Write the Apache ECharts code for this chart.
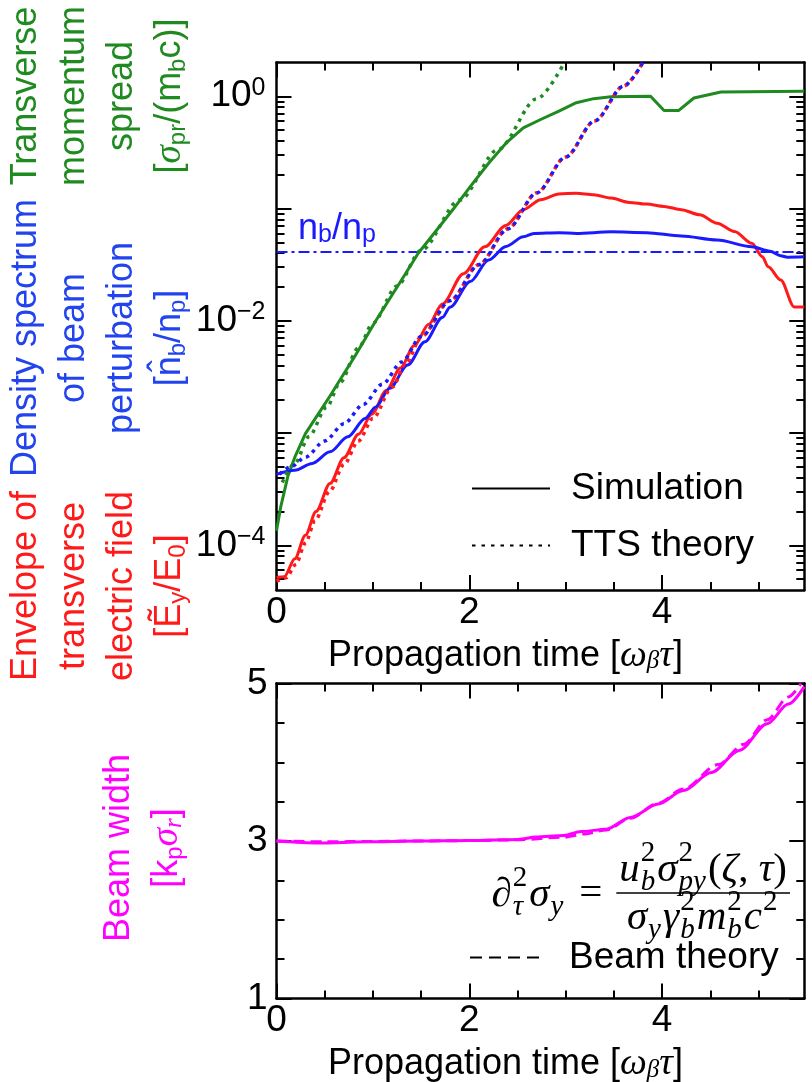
<!DOCTYPE html>
<html>
<head>
<meta charset="utf-8">
<script src="https://cdn.jsdelivr.net/npm/echarts@6/dist/echarts.min.js"></script>
<style>
  html, body { margin: 0; padding: 0; background: #fff; }
  #chart { width: 812px; height: 1082px; }
</style>
</head>
<body>
<div id="chart"></div>
<script>
// ---------- axis ranges and ticks ----------
const xMax = 5.475;
const logMin = 4e-5;
const logMax = 2;
const widthMin = 1;
const widthMax = 5;

const xMajorTicks = [0, 2, 4];
const xMinorTicks = [0.5, 1, 1.5, 2.5, 3, 3.5, 4.5, 5];
const logLabelTicks = [1e-4, 1e-2, 1];
const logMajorTicks = [1e-4, 1e-3, 1e-2, 1e-1, 1];
const widthLabelTicks = [1, 3, 5];
const widthMinorTicks = [1.5, 2, 2.5, 3.5, 4, 4.5];

// ---------- top panel: [propagation time, value] ----------
const momentumSim = [
  [0, 1.35e-4], [0.044, 2.2e-4], [0.117, 4.1e-4], [0.19, 6.1e-4], [0.30, 9.9e-4],
  [0.41, 1.38e-3], [0.555, 2.14e-3], [0.70, 3.39e-3], [0.81, 4.79e-3], [0.92, 6.92e-3],
  [1.03, 1.0e-2], [1.14, 1.41e-2], [1.32, 2.48e-2], [1.47, 4.0e-2], [1.65, 6.25e-2],
  [1.83, 9.8e-2], [2.01, 0.157], [2.20, 0.253], [2.38, 0.382], [2.56, 0.524],
  [2.74, 0.621], [2.93, 0.738], [3.11, 0.877], [3.29, 0.953], [3.47, 0.99],
  [3.88, 1.0], [4.02, 0.746], [4.17, 0.746], [4.33, 0.966], [4.61, 1.094], [5.475, 1.11]
];
const momentumTTS = [
  [0.06, 3.63e-4], [0.19, 5.37e-4], [0.336, 9.3e-4], [0.52, 1.70e-3], [0.66, 2.82e-3],
  [0.85, 5.75e-3], [1.0, 9.55e-3], [1.25, 2.04e-2], [1.5, 4.24e-2], [1.9, 0.119],
  [2.3, 0.337], [2.7, 0.95], [2.985, 1.99]
];
const fieldSim = [
  [0, 5.19e-5], [0.08, 5.25e-5], [0.19, 7.59e-5], [0.30, 1.23e-4], [0.41, 2.0e-4],
  [0.555, 3.55e-4], [0.70, 6.03e-4], [0.85, 9.77e-4], [0.99, 1.48e-3], [1.14, 2.4e-3],
  [1.285, 3.8e-3], [1.43, 6.03e-3], [1.58, 9.33e-3], [1.72, 1.41e-2], [1.94, 2.63e-2],
  [2.16, 4.57e-2], [2.38, 7.08e-2], [2.56, 9.77e-2], [2.74, 0.120], [2.93, 0.135],
  [3.11, 0.137], [3.29, 0.133], [3.47, 0.124], [3.66, 0.1135], [3.84, 0.1096],
  [4.02, 0.1045], [4.20, 0.0977], [4.39, 0.0879], [4.57, 0.0741], [4.75, 0.0624],
  [4.93, 0.049], [5.04, 0.0372], [5.10, 0.0303], [5.23, 0.0231], [5.37, 0.0133], [5.475, 0.0133]
];
const fieldTTS = [
  [0, 4.79e-5], [0.1, 5.13e-5], [0.2, 6.76e-5], [0.3, 1.05e-4], [0.4, 1.66e-4],
  [0.55, 3.02e-4], [0.7, 5.25e-4], [0.85, 8.51e-4], [1.0, 1.35e-3], [1.2, 2.57e-3],
  [1.35, 4.27e-3], [1.5, 7.24e-3], [1.8, 1.51e-2], [2.1, 3.16e-2], [2.4, 6.61e-2],
  [2.7, 0.138], [3.0, 0.288], [3.3, 0.603], [3.6, 1.23], [3.8, 2.0]
];
const densitySim = [
  [0, 4.29e-4], [0.19, 4.66e-4], [0.37, 5.35e-4], [0.555, 6.8e-4], [0.74, 9.25e-4],
  [0.92, 1.35e-3], [1.03, 1.71e-3], [1.175, 2.51e-3], [1.36, 4.03e-3], [1.54, 6.5e-3],
  [1.72, 1.07e-2], [1.80, 1.32e-2], [2.01, 2.24e-2], [2.20, 3.48e-2], [2.38, 4.6e-2],
  [2.56, 5.6e-2], [2.67, 6.0e-2], [2.93, 6.1e-2], [3.11, 6.0e-2], [3.47, 6.2e-2],
  [3.84, 6.1e-2], [4.20, 5.7e-2], [4.57, 5.25e-2], [4.93, 4.57e-2], [5.12, 4.17e-2],
  [5.23, 3.8e-2], [5.30, 3.69e-2], [5.475, 3.72e-2]
];
const densityTTS = [
  [0, 4.07e-4], [0.15, 5.0e-4], [0.3, 6.1e-4], [0.5, 8.5e-4], [0.7, 1.21e-3],
  [0.9, 1.8e-3], [1.1, 2.73e-3], [1.3, 4.3e-3], [1.5, 7.24e-3], [1.8, 1.51e-2],
  [2.1, 3.16e-2], [2.4, 6.61e-2], [2.7, 0.138], [3.0, 0.288], [3.3, 0.603],
  [3.6, 1.23], [3.8, 2.0]
];
const densityRatio = 0.041;

// ---------- bottom panel: [propagation time, beam width] ----------
const widthSim = [
  [0, 3.0], [0.44, 2.975], [0.93, 2.99], [1.48, 3.0], [2.0, 3.007], [2.51, 3.02],
  [2.69, 3.05], [2.98, 3.07], [3.16, 3.12], [3.42, 3.15], [3.67, 3.30], [3.96, 3.47],
  [4.22, 3.64], [4.51, 3.87], [4.80, 4.15], [5.09, 4.49], [5.31, 4.74], [5.475, 4.96]
];
const widthTheory = [
  [0, 3.0], [0.5, 2.99], [1.0, 2.995], [1.5, 3.0], [2.0, 3.005], [2.5, 3.015],
  [2.98, 3.05], [3.2, 3.09], [3.42, 3.14], [3.67, 3.29], [3.96, 3.48], [4.22, 3.66],
  [4.58, 3.97], [4.85, 4.23], [5.09, 4.54], [5.31, 4.83], [5.44, 5.0]
];

// ---------- styling ----------
const GREEN = '#1f8a1f';
const RED = '#ff1a1a';
const BLUE = '#1a1aff';
const MAGENTA = '#ff00ff';
const TITLE_BLUE = '#2244ee';
const SANS = '"Liberation Sans", Arial, sans-serif';
const SERIF = '"Liberation Serif", "DejaVu Serif", serif';
const DOTS = [3.5, 5];

// log-axis minor ticks at k * 10^e
const logMinorTicks = [];
for (let e = -5; e <= 0; e++) {
  for (let k = 2; k <= 9; k++) {
    const v = k * Math.pow(10, e);
    if (v > logMin && v < logMax) logMinorTicks.push(v);
  }
}

const AXIS_LINE = { show: true, onZero: false, lineStyle: { color: '#000', width: 2.5 } };
const NO_LINE = { show: false, onZero: false };
function ticks(values, length) {
  return { show: true, inside: true, length, customValues: values,
           lineStyle: { color: '#000', width: 2 } };
}

const nameRich = {
  g: { fontFamily: SERIF, fontStyle: 'italic', fontSize: 38, lineHeight: 44 },
  s: { fontFamily: SERIF, fontStyle: 'italic', fontSize: 25, lineHeight: 25,
       verticalAlign: 'bottom', padding: [0, 0, 4, 0] }
};
const axisName = 'Propagation time [{g|ω}{s|β}{g|τ}]';

function xAxesFor(gridIndex, nameGap) {
  const base = { type: 'value', gridIndex, min: 0, max: xMax, splitLine: { show: false } };
  return [
    { ...base, position: 'bottom', axisLine: AXIS_LINE, axisTick: ticks(xMajorTicks, 15),
      axisLabel: { show: true, customValues: xMajorTicks, margin: 4, fontSize: 37,
                   fontFamily: SANS, color: '#000' },
      name: axisName, nameLocation: 'middle', nameGap,
      nameTextStyle: { fontSize: 36, fontFamily: SANS, color: '#000', lineHeight: 44,
                       padding: [0, 70, 0, 0], rich: nameRich } },
    { ...base, position: 'bottom', axisLine: NO_LINE, axisTick: ticks(xMinorTicks, 8),
      axisLabel: { show: false } },
    { ...base, position: 'top', axisLine: AXIS_LINE, axisTick: ticks(xMajorTicks, 15),
      axisLabel: { show: false } },
    { ...base, position: 'top', axisLine: NO_LINE, axisTick: ticks(xMinorTicks, 8),
      axisLabel: { show: false } }
  ];
}

function yAxesFor(gridIndex, base, majors, minors, label) {
  const b = { gridIndex, splitLine: { show: false }, ...base };
  return [
    { ...b, position: 'left', axisLine: AXIS_LINE, axisTick: ticks(majors, 15), axisLabel: label },
    { ...b, position: 'left', axisLine: NO_LINE, axisTick: ticks(minors, 8), axisLabel: { show: false } },
    { ...b, position: 'right', axisLine: AXIS_LINE, axisTick: ticks(majors, 15), axisLabel: { show: false } },
    { ...b, position: 'right', axisLine: NO_LINE, axisTick: ticks(minors, 8), axisLabel: { show: false } }
  ];
}

const logLabel = {
  show: true, customValues: logLabelTicks, margin: 11, color: '#000',
  formatter: v => {
    const e = Math.round(Math.log10(v));
    return '{b|10}{e|' + (e < 0 ? '\u2212' + (-e) : e) + '}';
  },
  rich: {
    b: { fontSize: 37, fontFamily: SANS, lineHeight: 42, color: '#000' },
    e: { fontSize: 25, fontFamily: SANS, lineHeight: 24, verticalAlign: 'top', color: '#000' }
  }
};
const widthLabel = {
  show: true, customValues: widthLabelTicks, margin: 9, fontSize: 37,
  fontFamily: SANS, color: '#000'
};

// ---------- rotated multi-line axis titles ----------
const titleRich = {
  g: { fontFamily: SERIF, fontStyle: 'italic', fontSize: 37, lineHeight: 48 },
  s: { fontSize: 24, lineHeight: 24, verticalAlign: 'bottom', padding: [0, 0, 4, 0] },
  gs: { fontFamily: SERIF, fontStyle: 'italic', fontSize: 25, lineHeight: 24,
        verticalAlign: 'bottom', padding: [0, 0, 4, 0] }
};
function title(text, cx, cy, color) {
  const rich = {};
  Object.keys(titleRich).forEach(k => { rich[k] = { ...titleRich[k], fill: color }; });
  return {
    type: 'text', x: cx, y: cy, rotation: Math.PI / 2, silent: true,
    style: { text, fill: color, fontSize: 36, fontFamily: SANS, lineHeight: 48,
             align: 'center', verticalAlign: 'middle', textAlign: 'center',
             textVerticalAlign: 'middle', rich }
  };
}

// ---------- equation typesetting ----------
const measure = document.createElement('canvas').getContext('2d');
const EQ_SIZE = 41;
function eqFont(size, italic) { return (italic ? 'italic ' : '') + size + 'px ' + SERIF; }
function textWidth(str, size, italic) { measure.font = eqFont(size, italic); return measure.measureText(str).width; }

// token: ['b', text, italic] base glyphs; ['s', sup, sub] stacked scripts
function typesetRun(tokens, x0, midY, size, out) {
  let x = x0;
  const ss = Math.round(size * 0.7);
  tokens.forEach(tk => {
    if (tk[0] === 'b') {
      if (out) out.push({ type: 'text', x, y: midY, silent: true,
        style: { text: tk[1], font: eqFont(size, tk[2]), fill: '#000',
                 align: 'left', verticalAlign: 'middle', textAlign: 'left', textVerticalAlign: 'middle' } });
      x += textWidth(tk[1], size, tk[2]);
    } else {
      let adv = 0;
      [[tk[1], -0.40], [tk[2], 0.30]].forEach(([str, off]) => {
        if (!str) return;
        const ital = /[a-zτ]/.test(str);
        if (out) out.push({ type: 'text', x: x + 1, y: midY + off * size, silent: true,
          style: { text: str, font: eqFont(ss, ital), fill: '#000',
                   align: 'left', verticalAlign: 'middle', textAlign: 'left', textVerticalAlign: 'middle' } });
        adv = Math.max(adv, textWidth(str, ss, ital));
      });
      x += adv + 3;
    }
  });
  return x - x0;
}

function equation(rightX, barY) {
  const left = [['b', '\u2202', false], ['s', '2', 'τ'], ['b', 'σ', true], ['s', '', 'y']];
  const num = [['b', 'u', true], ['s', '2', 'b'], ['b', 'σ', true], ['s', '2', 'py'],
               ['b', '(', false], ['b', 'ζ', true], ['b', ', ', false], ['b', 'τ', true], ['b', ')', false]];
  const den = [['b', 'σ', true], ['s', '', 'y'], ['b', 'γ', true], ['s', '2', 'b'],
               ['b', 'm', true], ['s', '2', 'b'], ['b', 'c', true], ['s', '2', '']];
  const S = EQ_SIZE;
  const wl = typesetRun(left, 0, 0, S, null);
  const wn = typesetRun(num, 0, 0, S, null);
  const wd = typesetRun(den, 0, 0, S, null);
  const we = textWidth('=', S, false);
  const barW = Math.max(wn, wd) + 6;
  const gap = 0.34 * S;
  const x0 = rightX - (wl + gap + we + gap + barW);
  const els = [];
  typesetRun(left, x0, barY + 2, S, els);
  els.push({ type: 'text', x: x0 + wl + gap, y: barY + 1, silent: true,
    style: { text: '=', font: eqFont(S, false), fill: '#000', align: 'left', verticalAlign: 'middle',
             textAlign: 'left', textVerticalAlign: 'middle' } });
  const fx = x0 + wl + gap + we + gap;
  els.push({ type: 'line', silent: true, shape: { x1: fx, y1: barY, x2: fx + barW, y2: barY },
             style: { stroke: '#000', lineWidth: 1.6 } });
  typesetRun(num, fx + (barW - wn) / 2, barY - 0.56 * S, S, els);
  typesetRun(den, fx + (barW - wd) / 2, barY + 0.62 * S, S, els);
  return { type: 'group', children: els };
}

// ---------- chart ----------
const chart = echarts.init(document.getElementById('chart'), null, { renderer: 'canvas' });

function lineSeries(name, data, color, type, width, xi, yi, extra) {
  return Object.assign({
    name, type: 'line', data, xAxisIndex: xi, yAxisIndex: yi, symbol: 'none',
    showSymbol: false, clip: true, silent: true, animation: false,
    lineStyle: { color, width, type, cap: 'butt', join: 'round' },
    itemStyle: { color }, emphasis: { disabled: true }
  }, extra || {});
}
const SMOOTH = { smooth: 0.3, smoothMonotone: 'x' };

const legendBase = {
  orient: 'vertical', padding: 0, itemHeight: 14, selectedMode: false,
  itemStyle: { opacity: 0 },
  textStyle: { fontSize: 37, fontFamily: SANS, color: '#000' }
};

const option = {
  animation: false,
  backgroundColor: '#fff',
  grid: [
    { left: 276.5, right: 7.7, top: 62.5, height: 527.5, outerBoundsMode: 'none', containLabel: false },
    { left: 276.5, right: 7.7, top: 683.5, height: 315, outerBoundsMode: 'none', containLabel: false }
  ],
  xAxis: [...xAxesFor(0, 44), ...xAxesFor(1, 44)],
  yAxis: [
    ...yAxesFor(0, { type: 'log', logBase: 10, min: logMin, max: logMax }, logMajorTicks, logMinorTicks, logLabel),
    ...yAxesFor(1, { type: 'value', min: widthMin, max: widthMax }, widthLabelTicks, widthMinorTicks, widthLabel)
  ],
  legend: [
    { ...legendBase, data: ['Simulation', 'TTS theory'], left: 471, top: 470,
      itemWidth: 78, itemGap: 20,
      textStyle: { ...legendBase.textStyle, padding: [0, 0, 0, 16] } },
    { ...legendBase, data: ['Beam theory'], left: 469, top: 939, itemWidth: 74,
      textStyle: { ...legendBase.textStyle, padding: [0, 0, 0, 20] } }
  ],
  series: [
    lineSeries('nb/np', [[0, densityRatio], [xMax, densityRatio]], BLUE, [11, 4, 3, 4], 2, 0, 0),
    lineSeries('momentum', momentumSim, GREEN, 'solid', 3, 0, 0),
    lineSeries('field', fieldSim, RED, 'solid', 3, 0, 0, SMOOTH),
    lineSeries('density', densitySim, BLUE, 'solid', 3, 0, 0, SMOOTH),
    lineSeries('momentum TTS', momentumTTS, GREEN, DOTS, 3.5, 0, 0, SMOOTH),
    lineSeries('field TTS', fieldTTS, RED, [3.5, 4.5], 3.5, 0, 0, SMOOTH),
    lineSeries('density TTS', densityTTS, BLUE, [3.5, 4.5], 3.5, 0, 0,
      { ...SMOOTH, lineStyle: { color: BLUE, width: 3.5, type: [3.5, 4.5], dashOffset: 4 } }),
    lineSeries('beam width', widthSim, MAGENTA, 'solid', 3, 4, 4, SMOOTH),
    lineSeries('beam width theory', widthTheory, MAGENTA, [11, 6], 3, 4, 4, SMOOTH),
    // legend keys
    lineSeries('Simulation', [], '#000', 'solid', 3, 0, 0),
    lineSeries('TTS theory', [], '#000', [3.5, 6], 3.5, 0, 0),
    lineSeries('Beam theory', [], '#000', [12, 7], 3, 4, 4)
  ],
  graphic: [
    title('Transverse\nmomentum\nspread\n[{g|σ}{s|pr}/(m{s|b}c)]', 98.5, 96, GREEN),
    title('Density spectrum\nof beam\nperturbation\n[n\u0302{s|b}/n{s|p}]', 98.5, 338, TITLE_BLUE),
    title('Envelope of\ntransverse\nelectric field\n[\u1EBC{s|y}/E{s|0}]', 98.5, 586, RED),
    title('Beam width\n[k{s|p}{g|σ}{gs|r}]', 143, 848, MAGENTA),
    { type: 'text', x: 298, y: 229, silent: true,
      style: { text: 'n{s|b}/n{s|p}', fill: BLUE, fontSize: 36, fontFamily: SANS, lineHeight: 44,
               align: 'left', verticalAlign: 'middle', textAlign: 'left', textVerticalAlign: 'middle',
               rich: { s: { fontSize: 25, lineHeight: 25, verticalAlign: 'bottom', padding: [0, 0, 3, 0], fill: BLUE } } } },
    equation(790, 893)
  ]
};

chart.setOption(option);
</script>
</body>
</html>
